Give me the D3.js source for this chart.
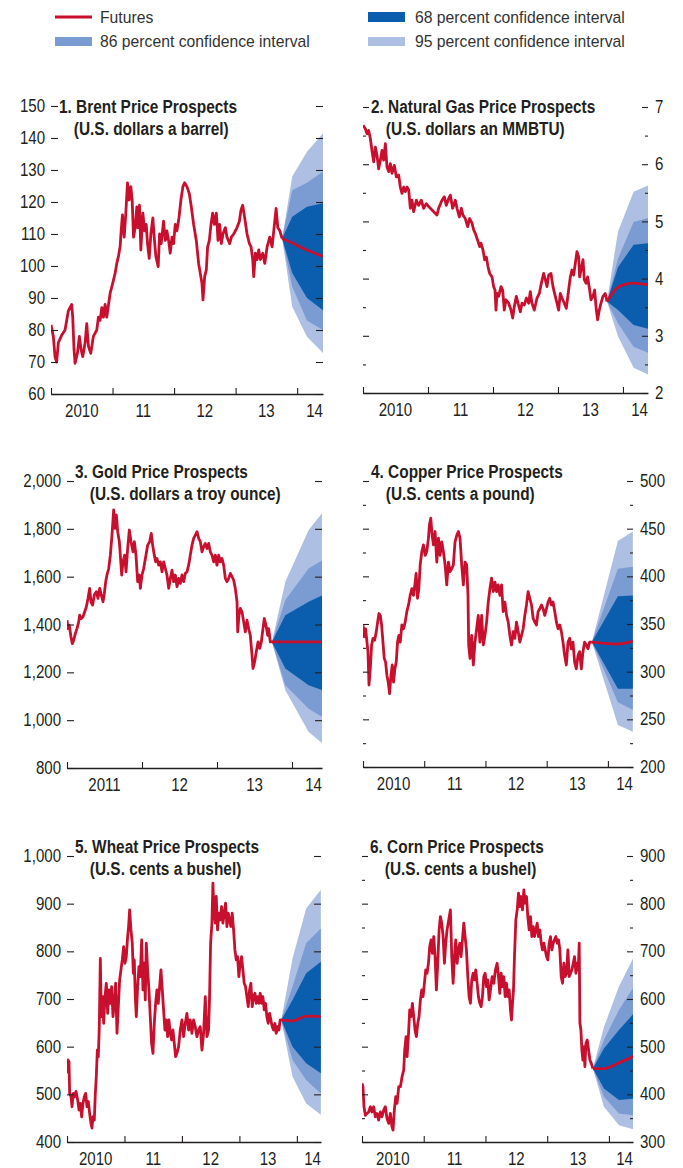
<!DOCTYPE html>
<html><head><meta charset="utf-8">
<script src="https://cdn.jsdelivr.net/npm/d3@7"></script>
<style>
body{margin:0;background:#fff;}
svg text{font-family:"Liberation Sans",Arial,sans-serif;}
</style></head>
<body><svg id="c" width="683" height="1168"></svg>
<script>
// ---------------- DATA ----------------
const brentHist=[[2010.000,81.6],[2010.038,78],[2010.065,71.7],[2010.092,70],[2010.119,76],[2010.174,78.4],[2010.228,80],[2010.255,83],[2010.282,86],[2010.309,87],[2010.336,88],[2010.353,84],[2010.374,74],[2010.391,69.6],[2010.429,72.7],[2010.461,78],[2010.488,74],[2010.516,71.7],[2010.554,76],[2010.581,82],[2010.608,75],[2010.646,72.7],[2010.689,78],[2010.744,80],[2010.771,84],[2010.798,83],[2010.825,87],[2010.852,84],[2010.879,88],[2010.906,84],[2010.961,91.5],[2010.988,93.5],[2011.015,95.6],[2011.042,97.7],[2011.069,100.8],[2011.096,103],[2011.123,106],[2011.140,111],[2011.161,116],[2011.189,109],[2011.216,116.5],[2011.243,126],[2011.270,120.6],[2011.297,124.8],[2011.319,120.6],[2011.341,109],[2011.368,112],[2011.395,118.5],[2011.411,112],[2011.438,119],[2011.460,105],[2011.493,116.5],[2011.520,111],[2011.547,113],[2011.569,107],[2011.596,102.4],[2011.623,110],[2011.655,115],[2011.677,109],[2011.704,103],[2011.742,99.8],[2011.764,110],[2011.791,107],[2011.829,114],[2011.856,108],[2011.883,111],[2011.910,108],[2011.938,104],[2011.965,109],[2011.992,107],[2012.019,113],[2012.046,111],[2012.079,115],[2012.111,120.6],[2012.144,124.8],[2012.171,126],[2012.209,124.8],[2012.247,122.7],[2012.280,118.5],[2012.318,113],[2012.361,108],[2012.399,100.8],[2012.426,97.7],[2012.453,94.6],[2012.470,89.4],[2012.497,96.7],[2012.524,98.8],[2012.545,106],[2012.573,108],[2012.600,113],[2012.627,116.5],[2012.654,113],[2012.687,116.5],[2012.714,108],[2012.741,113],[2012.768,107],[2012.795,110],[2012.833,112],[2012.860,109],[2012.904,107],[2012.931,109],[2012.969,110],[2013.023,112],[2013.061,114],[2013.088,117.5],[2013.115,119],[2013.148,115],[2013.186,110],[2013.224,107],[2013.251,106],[2013.278,102],[2013.294,96.7],[2013.322,104],[2013.349,102],[2013.376,105],[2013.403,102],[2013.441,104],[2013.474,100.8],[2013.512,106],[2013.555,109],[2013.593,106],[2013.631,113],[2013.658,118],[2013.685,112],[2013.718,111],[2013.756,108.6]];
// fan rows: [year, lo95, lo86, lo68, futures, hi68, hi86, hi95]
const brentFan=[[2013.756,108.6,108.6,108.6,108.6,108.6,108.6,108.6],[2013.92,87.3,93.5,97.8,107.2,115.4,123.7,128],[2014.16,77.9,83,90,105,118.5,126,135.7],[2014.42,72.8,80,86.2,103,119.6,129.5,141.5]];

const gasHist=[[2010.000,6.68],[2010.036,6.62],[2010.062,6.53],[2010.087,6.59],[2010.113,6.45],[2010.138,6.24],[2010.164,6.04],[2010.190,6.3],[2010.215,6.16],[2010.241,5.92],[2010.267,6.07],[2010.292,6.24],[2010.318,6.07],[2010.344,6.36],[2010.369,5.95],[2010.395,5.87],[2010.421,6.01],[2010.446,5.84],[2010.482,5.98],[2010.513,5.78],[2010.549,5.81],[2010.574,5.6],[2010.600,5.49],[2010.626,5.6],[2010.651,5.52],[2010.677,5.6],[2010.703,5.55],[2010.728,5.23],[2010.754,5.37],[2010.779,5.17],[2010.821,5.37],[2010.856,5.28],[2010.897,5.37],[2010.933,5.23],[2010.974,5.31],[2011.010,5.26],[2011.062,5.2],[2011.138,5.11],[2011.164,5.23],[2011.215,5.37],[2011.251,5.43],[2011.282,5.28],[2011.318,5.4],[2011.344,5.46],[2011.379,5.23],[2011.421,5.37],[2011.446,5.23],[2011.482,5.08],[2011.513,5.23],[2011.538,5.11],[2011.574,5.05],[2011.610,4.91],[2011.641,5.05],[2011.677,4.97],[2011.703,4.85],[2011.728,4.79],[2011.764,4.67],[2011.795,4.56],[2011.815,4.62],[2011.846,4.5],[2011.872,4.33],[2011.897,4.38],[2011.923,4.21],[2011.949,4.09],[2011.985,4.03],[2012.010,3.86],[2012.031,3.8],[2012.046,3.45],[2012.062,3.74],[2012.087,3.69],[2012.123,3.86],[2012.149,3.8],[2012.174,3.45],[2012.200,3.63],[2012.241,3.57],[2012.277,3.45],[2012.303,3.31],[2012.328,3.51],[2012.359,3.69],[2012.385,3.57],[2012.421,3.42],[2012.446,3.57],[2012.482,3.54],[2012.513,3.66],[2012.549,3.57],[2012.574,3.77],[2012.600,3.57],[2012.636,3.45],[2012.677,3.66],[2012.713,3.74],[2012.744,3.92],[2012.779,4.09],[2012.805,3.98],[2012.831,3.86],[2012.856,4.06],[2012.892,4.09],[2012.923,3.86],[2012.959,3.69],[2012.985,3.57],[2013.010,3.45],[2013.036,3.74],[2013.062,3.66],[2013.097,3.57],[2013.128,3.48],[2013.164,3.8],[2013.190,4.03],[2013.215,4.15],[2013.241,4.06],[2013.267,4.27],[2013.292,4.47],[2013.318,4.38],[2013.333,4.03],[2013.354,4.15],[2013.385,4.33],[2013.405,3.98],[2013.431,3.92],[2013.456,4.03],[2013.487,3.8],[2013.508,3.63],[2013.538,3.69],[2013.564,3.8],[2013.590,3.45],[2013.610,3.28],[2013.636,3.45],[2013.662,3.57],[2013.692,3.69],[2013.728,3.74],[2013.754,3.6]];
const gasFan=[[2013.754,3.6,3.6,3.6,3.6,3.6,3.6,3.6],[2013.923,2.99,3.22,3.45,3.85,4.2,4.35,4.82],[2014.164,2.44,2.81,3.19,3.92,4.59,4.99,5.52],[2014.39,2.32,2.7,3.12,3.89,4.62,5.06,5.63]];

const goldHist=[[2011.000,1418],[2011.013,1383],[2011.031,1397],[2011.053,1348],[2011.071,1320],[2011.089,1334],[2011.111,1362],[2011.133,1383],[2011.156,1411],[2011.169,1439],[2011.191,1425],[2011.213,1432],[2011.236,1453],[2011.258,1474],[2011.280,1509],[2011.302,1551],[2011.320,1495],[2011.342,1481],[2011.364,1523],[2011.391,1537],[2011.413,1509],[2011.436,1551],[2011.458,1523],[2011.480,1495],[2011.498,1530],[2011.516,1579],[2011.533,1607],[2011.556,1634],[2011.578,1690],[2011.600,1774],[2011.622,1879],[2011.640,1802],[2011.658,1858],[2011.676,1788],[2011.698,1746],[2011.711,1690],[2011.729,1607],[2011.747,1662],[2011.769,1690],[2011.787,1620],[2011.809,1718],[2011.831,1795],[2011.853,1746],[2011.880,1704],[2011.898,1746],[2011.920,1690],[2011.942,1579],[2011.964,1607],[2011.978,1551],[2012.000,1607],[2012.022,1634],[2012.053,1690],[2012.076,1732],[2012.102,1746],[2012.124,1781],[2012.142,1732],[2012.164,1690],[2012.182,1662],[2012.200,1676],[2012.222,1648],[2012.244,1662],[2012.267,1620],[2012.289,1662],[2012.311,1634],[2012.333,1607],[2012.356,1551],[2012.378,1593],[2012.400,1627],[2012.422,1579],[2012.444,1607],[2012.467,1558],[2012.489,1593],[2012.511,1572],[2012.533,1607],[2012.556,1579],[2012.578,1614],[2012.600,1620],[2012.622,1648],[2012.644,1690],[2012.667,1732],[2012.689,1760],[2012.711,1774],[2012.733,1788],[2012.756,1760],[2012.778,1746],[2012.800,1704],[2012.822,1725],[2012.844,1739],[2012.867,1718],[2012.889,1739],[2012.911,1704],[2012.933,1690],[2012.956,1662],[2012.978,1690],[2013.000,1648],[2013.022,1690],[2013.044,1662],[2013.067,1676],[2013.089,1648],[2013.111,1593],[2013.133,1579],[2013.156,1593],[2013.178,1614],[2013.200,1600],[2013.222,1586],[2013.244,1551],[2013.267,1495],[2013.276,1369],[2013.293,1439],[2013.311,1467],[2013.333,1453],[2013.356,1411],[2013.378,1369],[2013.400,1418],[2013.422,1383],[2013.444,1355],[2013.467,1272],[2013.480,1216],[2013.502,1244],[2013.524,1286],[2013.547,1327],[2013.569,1300],[2013.591,1327],[2013.613,1383],[2013.631,1425],[2013.653,1397],[2013.676,1355],[2013.689,1383],[2013.711,1327],[2013.733,1327]];
const goldFan=[[2013.733,1327,1327,1327,1327,1327,1327,1327],[2013.911,1125,1146,1216,1327,1439,1502,1579],[2014.222,951,1048,1146,1327,1495,1634,1795],[2014.409,902,1013,1125,1327,1523,1669,1869]];

const copperHist=[[2010.000,348.8],[2010.022,336.5],[2010.043,345],[2010.065,331],[2010.081,321],[2010.098,286],[2010.119,303],[2010.141,328],[2010.163,335],[2010.190,333],[2010.217,342],[2010.239,352],[2010.261,361],[2010.282,359],[2010.304,349],[2010.326,331],[2010.347,314],[2010.369,310],[2010.391,296],[2010.412,289],[2010.434,277],[2010.456,296],[2010.478,307],[2010.499,289],[2010.521,303],[2010.543,310],[2010.564,331],[2010.586,338],[2010.608,331],[2010.635,349],[2010.662,345],[2010.689,352],[2010.716,363],[2010.744,370],[2010.771,380],[2010.798,387],[2010.825,380],[2010.852,394],[2010.868,403],[2010.890,377],[2010.912,387],[2010.934,412],[2010.961,426],[2010.988,433],[2011.015,422],[2011.042,426],[2011.069,440],[2011.085,454],[2011.107,461],[2011.129,443],[2011.151,433],[2011.178,447],[2011.205,415],[2011.232,440],[2011.259,422],[2011.286,436],[2011.313,426],[2011.341,412],[2011.368,391],[2011.395,415],[2011.422,405],[2011.449,408],[2011.476,412],[2011.503,436],[2011.531,443],[2011.558,447],[2011.585,440],[2011.612,412],[2011.639,391],[2011.666,415],[2011.693,412],[2011.715,380],[2011.726,328],[2011.748,314],[2011.775,338],[2011.802,307],[2011.829,331],[2011.856,345],[2011.883,359],[2011.910,331],[2011.938,359],[2011.965,328],[2011.992,338],[2012.019,352],[2012.046,373],[2012.073,387],[2012.100,398],[2012.128,384],[2012.155,394],[2012.182,384],[2012.209,391],[2012.236,380],[2012.263,391],[2012.290,363],[2012.318,373],[2012.345,359],[2012.372,352],[2012.399,338],[2012.426,328],[2012.453,342],[2012.480,335],[2012.507,352],[2012.535,342],[2012.562,331],[2012.589,338],[2012.616,345],[2012.643,359],[2012.670,370],[2012.697,384],[2012.724,377],[2012.752,370],[2012.779,356],[2012.806,352],[2012.833,349],[2012.860,363],[2012.887,366],[2012.914,370],[2012.942,366],[2012.969,359],[2012.996,366],[2013.023,373],[2013.050,377],[2013.077,370],[2013.104,373],[2013.132,363],[2013.159,352],[2013.186,345],[2013.213,349],[2013.240,342],[2013.267,331],[2013.294,317],[2013.321,307],[2013.349,331],[2013.376,335],[2013.403,324],[2013.430,331],[2013.457,310],[2013.484,303],[2013.512,317],[2013.539,321],[2013.566,303],[2013.593,321],[2013.620,331],[2013.647,328],[2013.674,324],[2013.702,331],[2013.739,331]];
const copperFan=[[2013.739,331,331,331,331,331,331,331],[2014.163,244,268,282,329,379,408,437],[2014.407,237,260,282,332,380,410,447]];

const wheatHist=[[2010.000,544],[2010.017,572],[2010.035,568],[2010.046,502],[2010.070,495],[2010.087,474],[2010.110,502],[2010.133,495],[2010.157,506],[2010.186,488],[2010.209,467],[2010.232,481],[2010.255,453],[2010.278,481],[2010.301,495],[2010.325,502],[2010.348,474],[2010.371,485],[2010.394,460],[2010.417,439],[2010.435,429],[2010.452,453],[2010.475,446],[2010.493,502],[2010.510,537],[2010.528,593],[2010.545,579],[2010.562,642],[2010.580,785],[2010.597,663],[2010.620,705],[2010.638,649],[2010.661,705],[2010.684,733],[2010.707,670],[2010.730,719],[2010.754,691],[2010.777,726],[2010.800,663],[2010.823,691],[2010.846,733],[2010.870,628],[2010.893,684],[2010.916,740],[2010.939,761],[2010.962,782],[2010.986,810],[2011.009,775],[2011.032,789],[2011.055,831],[2011.072,852],[2011.090,887],[2011.113,845],[2011.136,817],[2011.154,754],[2011.171,782],[2011.188,705],[2011.206,663],[2011.229,726],[2011.252,768],[2011.275,747],[2011.299,824],[2011.322,719],[2011.345,775],[2011.362,698],[2011.380,817],[2011.403,761],[2011.426,719],[2011.449,663],[2011.472,607],[2011.496,586],[2011.519,649],[2011.542,691],[2011.565,719],[2011.588,691],[2011.612,726],[2011.635,761],[2011.658,719],[2011.681,677],[2011.704,635],[2011.728,656],[2011.751,621],[2011.774,656],[2011.797,628],[2011.820,614],[2011.843,635],[2011.867,607],[2011.890,579],[2011.913,586],[2011.942,600],[2011.971,635],[2012.000,656],[2012.029,621],[2012.058,649],[2012.087,670],[2012.116,635],[2012.145,656],[2012.174,628],[2012.203,656],[2012.232,642],[2012.261,621],[2012.290,635],[2012.319,642],[2012.348,593],[2012.377,628],[2012.406,705],[2012.435,621],[2012.464,635],[2012.481,705],[2012.499,817],[2012.522,859],[2012.539,943],[2012.557,887],[2012.580,859],[2012.597,915],[2012.620,845],[2012.643,880],[2012.667,866],[2012.690,894],[2012.713,859],[2012.736,880],[2012.759,901],[2012.783,852],[2012.806,880],[2012.829,866],[2012.852,852],[2012.875,880],[2012.899,845],[2012.922,803],[2012.945,782],[2012.968,789],[2012.991,747],[2013.014,775],[2013.038,789],[2013.061,761],[2013.084,733],[2013.107,726],[2013.130,705],[2013.154,684],[2013.177,719],[2013.200,733],[2013.223,684],[2013.246,705],[2013.270,712],[2013.293,691],[2013.316,705],[2013.339,691],[2013.362,712],[2013.386,691],[2013.409,705],[2013.432,677],[2013.455,691],[2013.478,663],[2013.501,649],[2013.525,670],[2013.548,656],[2013.571,642],[2013.594,635],[2013.617,649],[2013.641,628],[2013.664,642],[2013.687,635],[2013.710,656],[2013.728,656]];
const wheatFan=[[2013.728,656,656,656,656,656,656,656],[2013.925,537,572,600,654,698,726,785],[2014.162,481,530,565,664,754,817,890],[2014.417,457,502,544,663,778,848,929]];

const cornHist=[[2010.000,423],[2010.016,416],[2010.032,374],[2010.054,356],[2010.081,360],[2010.108,363],[2010.135,374],[2010.162,363],[2010.189,374],[2010.216,353],[2010.243,360],[2010.270,346],[2010.297,363],[2010.324,353],[2010.351,367],[2010.378,374],[2010.405,349],[2010.432,339],[2010.459,360],[2010.486,332],[2010.503,325],[2010.524,367],[2010.546,395],[2010.568,381],[2010.595,416],[2010.622,416],[2010.649,437],[2010.676,451],[2010.692,493],[2010.714,521],[2010.730,479],[2010.751,521],[2010.773,577],[2010.795,563],[2010.816,591],[2010.838,563],[2010.859,535],[2010.881,521],[2010.903,549],[2010.924,563],[2010.946,598],[2010.968,619],[2010.989,605],[2011.011,633],[2011.032,661],[2011.054,654],[2011.076,675],[2011.097,710],[2011.119,724],[2011.141,696],[2011.162,731],[2011.184,689],[2011.205,619],[2011.227,675],[2011.249,745],[2011.270,773],[2011.292,759],[2011.314,731],[2011.335,675],[2011.357,717],[2011.378,745],[2011.405,766],[2011.432,787],[2011.454,689],[2011.476,633],[2011.497,689],[2011.519,724],[2011.541,675],[2011.562,703],[2011.584,717],[2011.605,689],[2011.627,724],[2011.649,759],[2011.670,731],[2011.692,703],[2011.714,647],[2011.735,605],[2011.757,591],[2011.778,640],[2011.800,654],[2011.822,640],[2011.843,661],[2011.865,633],[2011.886,605],[2011.908,591],[2011.930,584],[2011.951,605],[2011.973,647],[2011.995,654],[2012.016,626],[2012.038,640],[2012.059,598],[2012.081,619],[2012.108,647],[2012.135,633],[2012.162,661],[2012.189,675],[2012.211,647],[2012.232,612],[2012.254,654],[2012.276,626],[2012.297,647],[2012.319,605],[2012.341,633],[2012.362,605],[2012.384,619],[2012.405,577],[2012.422,556],[2012.438,591],[2012.454,619],[2012.470,689],[2012.492,766],[2012.514,787],[2012.535,822],[2012.557,794],[2012.578,815],[2012.600,787],[2012.622,829],[2012.643,801],[2012.665,815],[2012.686,773],[2012.708,745],[2012.730,773],[2012.751,731],[2012.773,752],[2012.795,731],[2012.816,745],[2012.838,759],[2012.859,731],[2012.881,745],[2012.903,717],[2012.924,703],[2012.946,717],[2012.968,703],[2012.989,689],[2013.011,682],[2013.032,717],[2013.054,731],[2013.076,703],[2013.097,717],[2013.119,724],[2013.141,731],[2013.162,717],[2013.184,724],[2013.205,703],[2013.227,647],[2013.249,633],[2013.270,675],[2013.292,647],[2013.314,654],[2013.335,703],[2013.357,647],[2013.378,654],[2013.400,661],[2013.422,675],[2013.443,689],[2013.465,654],[2013.486,675],[2013.503,661],[2013.519,717],[2013.530,549],[2013.546,535],[2013.562,493],[2013.578,472],[2013.595,500],[2013.611,458],[2013.627,507],[2013.649,514],[2013.670,493],[2013.692,472],[2013.714,465],[2013.741,454]];
const cornFan=[[2013.741,454,454,454,454,454,454,454],[2013.919,374,395,412,454,496,514,541],[2014.162,335,360,388,466,535,577,626],[2014.405,326,356,391,480,570,626,689]];

const brentTicks=[60,70,80,90,100,110,120,130,140,150];
const gasTicks=[2,3,4,5,6,7], gasMinor=[2.5,3.5,4.5,5.5,6.5];
const goldTicks=[800,1000,1200,1400,1600,1800,2000];
const copperTicks=[200,250,300,350,400,450,500], copperMinor=[225,275,325,375,425,475];
const wheatTicks=[400,500,600,700,800,900,1000];
const cornTicks=[300,400,500,600,700,800,900], cornMinor=[350,450,550,650,750,850];
const yearLabels2010=["2010","11","12","13","14"];
const yearLabels2011=["2011","12","13","14"];
const legendLabels=["Futures","86 percent confidence interval","68 percent confidence interval","95 percent confidence interval"];

// ---------------- DRAWING ----------------
const C={red:"#c8102e",dark:"#0b5dad",mid:"#7b9bd3",light:"#adbfe2",ink:"#231f20"};
const svg=d3.select("#c");
const LABEL_SIZE="17.5px", LABEL_SQ=0.86, TITLE_SIZE="17.5px", TITLE_SQ=0.88, LEG_SQ=0.925;

// condense text horizontally (condensed typeface look)
function squeeze(sel,f){
  sel.each(function(){
    const w=this.getComputedTextLength();
    if(w>0) d3.select(this).attr("textLength",w*f).attr("lengthAdjust","spacingAndGlyphs");
  });
}

const panels=[
 {id:1,num:"1.",title:"Brent Price Prospects",sub:"(U.S. dollars a barrel)",hist:brentHist,fan:brentFan,dom:[60,150],ticks:brentTicks,minor:[],side:"left",fmt:d3.format("d"),x0:51,x1:323,yT:106,yB:394,xs:2010,xe:2014.42,years:yearLabels2010,tY:113},
 {id:2,num:"2.",title:"Natural Gas Price Prospects",sub:"(U.S. dollars an MMBTU)",hist:gasHist,fan:gasFan,dom:[2,7],ticks:gasTicks,minor:gasMinor,side:"right",fmt:d3.format("d"),x0:363,x1:648,yT:107,yB:393,xs:2010,xe:2014.385,years:yearLabels2010,tY:113},
 {id:3,num:"3.",title:"Gold Price Prospects",sub:"(U.S. dollars a troy ounce)",hist:goldHist,fan:goldFan,dom:[800,2000],ticks:goldTicks,minor:[],side:"left",fmt:d3.format(","),x0:67,x1:322,yT:481,yB:768,xs:2011,xe:2014.4,years:yearLabels2011,tY:478},
 {id:4,num:"4.",title:"Copper Price Prospects",sub:"(U.S. cents a pound)",hist:copperHist,fan:copperFan,dom:[200,500],ticks:copperTicks,minor:copperMinor,side:"right",fmt:d3.format("d"),x0:363,x1:633,yT:481,yB:767,xs:2010,xe:2014.41,years:yearLabels2010,tY:478},
 {id:5,num:"5.",title:"Wheat Price Prospects",sub:"(U.S. cents a bushel)",hist:wheatHist,fan:wheatFan,dom:[400,1000],ticks:wheatTicks,minor:[],side:"left",fmt:d3.format(","),x0:67,x1:321,yT:856,yB:1142,xs:2010,xe:2014.42,years:yearLabels2010,tY:853},
 {id:6,num:"6.",title:"Corn Price Prospects",sub:"(U.S. cents a bushel)",hist:cornHist,fan:cornFan,dom:[300,900],ticks:cornTicks,minor:cornMinor,side:"right",fmt:d3.format("d"),x0:362,x1:633,yT:856,yB:1142,xs:2010,xe:2014.39,years:yearLabels2010,tY:853}
];

const defs=svg.append("defs");

function styleAxis(g){
  g.select(".domain").remove();
  g.selectAll(".tick line").attr("stroke",C.ink).attr("stroke-width",1.1);
  const t=g.selectAll(".tick text").attr("fill",C.ink).style("font-size",LABEL_SIZE)
    .style("font-family","'Liberation Sans',Arial,sans-serif");
  squeeze(t,LABEL_SQ);
}

panels.forEach(p=>{
  const x=d3.scaleLinear().domain([p.xs,p.xe]).range([p.x0,p.x1]);
  const y=d3.scaleLinear().domain(p.dom).range([p.yB,p.yT]);
  const cid="clip"+p.id;
  defs.append("clipPath").attr("id",cid).append("rect")
    .attr("x",p.x0).attr("y",p.yT-40).attr("width",p.x1-p.x0).attr("height",p.yB-p.yT+40);
  const g=svg.append("g");
  const pl=g.append("g").attr("clip-path",`url(#${cid})`);
  // fan bands
  [[1,7,C.light],[2,6,C.mid],[3,5,C.dark]].forEach(([lo,hi,col])=>{
    pl.append("path").datum(p.fan)
      .attr("d",d3.area().x(d=>x(d[0])).y0(d=>y(d[lo])).y1(d=>y(d[hi])))
      .attr("fill",col);
  });
  // y axes (ticks drawn on top of fan)
  if(p.side==="left"){
    const a=g.append("g").attr("transform",`translate(${p.x0},0)`)
      .call(d3.axisLeft(y).tickValues(p.ticks).tickSize(-7).tickPadding(6).tickFormat(p.fmt));
    styleAxis(a);
    const b=g.append("g").attr("transform",`translate(${p.x1},0)`)
      .call(d3.axisRight(y).tickValues(p.ticks).tickSize(-7).tickFormat(""));
    styleAxis(b);
  } else {
    const a=g.append("g").attr("transform",`translate(${p.x1},0)`)
      .call(d3.axisRight(y).tickValues(p.ticks).tickSize(-6).tickPadding(7).tickFormat(p.fmt));
    styleAxis(a);
    const b=g.append("g").attr("transform",`translate(${p.x0},0)`)
      .call(d3.axisLeft(y).tickValues(p.ticks).tickSize(-6).tickFormat(""));
    styleAxis(b);
  }
  if(p.minor.length){
    const m1=g.append("g").attr("transform",`translate(${p.x0},0)`)
      .call(d3.axisLeft(y).tickValues(p.minor).tickSize(-3).tickFormat(""));
    styleAxis(m1);
    const m2=g.append("g").attr("transform",`translate(${p.x1},0)`)
      .call(d3.axisRight(y).tickValues(p.minor).tickSize(-3).tickFormat(""));
    styleAxis(m2);
  }
  // x axis
  const yearStarts=d3.range(Math.ceil(p.xs),Math.floor(p.xe)+1);
  const xa=g.append("g").attr("transform",`translate(0,${p.yB})`)
    .call(d3.axisBottom(x).tickValues(yearStarts).tickSize(-6).tickSizeOuter(0).tickFormat(""));
  xa.select(".domain").attr("stroke",C.ink).attr("stroke-width",1.3);
  xa.selectAll(".tick line").attr("stroke",C.ink).attr("stroke-width",1.1);
  p.years.forEach((lbl,i)=>{
    const yr=yearStarts[i];
    const last=i===p.years.length-1;
    const t=g.append("text")
      .attr("x",last?p.x1:x(yr+0.5))
      .attr("y",p.yB+23)
      .attr("text-anchor",last?"end":"middle")
      .attr("fill",C.ink).style("font-size",LABEL_SIZE)
      .text(lbl);
    squeeze(t,LABEL_SQ);
  });
  // history line
  pl.append("path").datum(p.hist)
    .attr("d",d3.line().x(d=>x(d[0])).y(d=>y(d[1])))
    .attr("fill","none").attr("stroke",C.red).attr("stroke-width",2.8).attr("stroke-linejoin","round");
  // futures line
  pl.append("path").datum(p.fan)
    .attr("d",d3.line().curve(d3.curveMonotoneX).x(d=>x(d[0])).y(d=>y(d[4])))
    .attr("fill","none").attr("stroke",C.red).attr("stroke-width",2.8);
  // title
  const tx=p.x0+8;
  const tmp=g.append("text").style("font-size",TITLE_SIZE).style("font-weight","bold").text(p.num+" ");
  const nw=tmp.node().getComputedTextLength()*TITLE_SQ+2;
  tmp.remove();
  const t1=g.append("text").attr("x",tx).attr("y",p.tY)
    .attr("fill",C.ink).style("font-size",TITLE_SIZE).style("font-weight","bold")
    .text(p.num+" "+p.title);
  squeeze(t1,TITLE_SQ);
  const t2=g.append("text").attr("x",tx+nw).attr("y",p.tY+22)
    .attr("fill",C.ink).style("font-size",TITLE_SIZE).style("font-weight","bold")
    .text(p.sub);
  squeeze(t2,TITLE_SQ);
});

// legend
const lg=svg.append("g");
lg.append("line").attr("x1",55).attr("x2",92).attr("y1",17).attr("y2",17).attr("stroke",C.red).attr("stroke-width",3);
lg.append("rect").attr("x",55).attr("y",37).attr("width",37).attr("height",9).attr("fill",C.mid);
lg.append("rect").attr("x",368).attr("y",12).attr("width",37).attr("height",10).attr("fill",C.dark);
lg.append("rect").attr("x",368).attr("y",37).attr("width",37).attr("height",9).attr("fill",C.light);
[[100,23,0],[100,47,1],[415,23,2],[415,47,3]].forEach(([lx,ly,i])=>{
  const t=lg.append("text").attr("x",lx).attr("y",ly).attr("fill","#333").style("font-size","17px").text(legendLabels[i]);
  squeeze(t,LEG_SQ);
});
</script></body></html>
